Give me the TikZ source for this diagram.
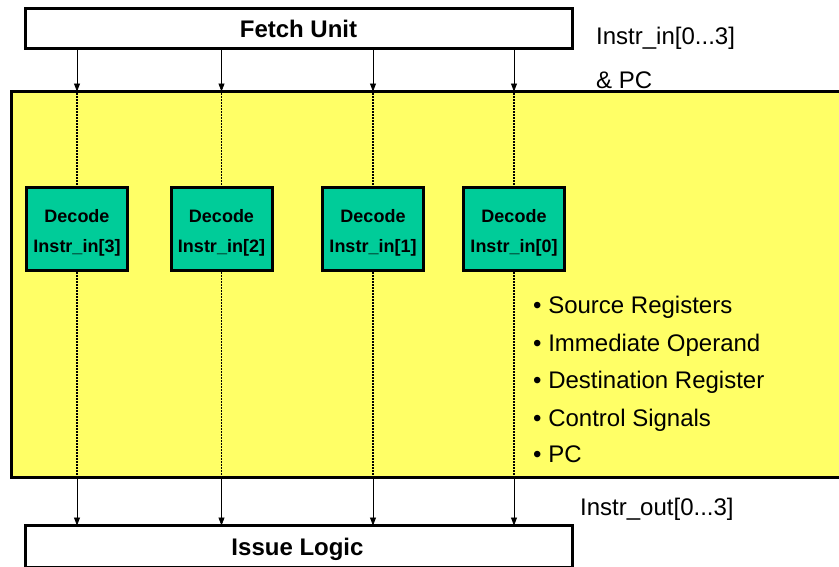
\documentclass[tikz,border=0pt]{standalone}
\usepackage{fontspec}
\setmainfont{Liberation Sans}
\usetikzlibrary{arrows.meta}
\definecolor{padyellow}{HTML}{FFFF66}
\definecolor{decgreen}{HTML}{00CC99}
\begin{document}
\begin{tikzpicture}[x=1pt,y=-1pt,
  unitbox/.style={draw=black, line width=3pt, fill=white, inner sep=0pt,
    minimum width=547pt, font=\fontsize{24}{28}\selectfont\bfseries},
  stagebox/.style={draw=black, line width=3pt, fill=padyellow, inner sep=0pt},
  decbox/.style={draw=black, line width=3pt, fill=decgreen, inner sep=0pt,
    minimum width=101pt, minimum height=83pt, align=center,
    font=\fontsize{18}{30}\selectfont\bfseries},
  plain/.style={inner sep=0pt, anchor=base west, font=\fontsize{24}{28}\selectfont},
  arr/.style={line width=0.8pt, -{Triangle[length=8pt,width=6pt]}},
  dotline/.style={line width=1.5pt, dash pattern=on 1.5pt off 1.5pt}
]
\useasboundingbox (0,0) rectangle (839,566);

% main decode stage (extends past the right edge)
\node[stagebox, minimum width=850pt, minimum height=385.5pt] (main) at (436.5,284.25) {};

% fetch and issue units
\node[unitbox, minimum height=40.5pt] (fetch) at (299,28.25) {};
\node[inner sep=0pt, anchor=base, font=\fontsize{24}{28}\selectfont\bfseries] (fetchtxt) at (298.5,37) {Fetch Unit};
\node[unitbox, minimum height=42pt] (issue) at (299,546.5) {};
\node[inner sep=0pt, anchor=base, font=\fontsize{24}{28}\selectfont\bfseries] (issuetxt) at (297.5,555) {Issue Logic};

% decoders
\foreach \n/\x/\k in {d3/77/3, d2/221.5/2, d1/373/1, d0/514/0}{
  \node[decbox] (\n) at (\x,229) {};
  \node[inner sep=0pt, anchor=base, font=\fontsize{18}{22}\selectfont\bfseries] (\n a) at (\x,222) {Decode};
  \node[inner sep=0pt, anchor=base, font=\fontsize{18}{22}\selectfont\bfseries] (\n b) at (\x,252) {Instr\_in[\k]};
}

% connectors
\foreach \n in {d3,d2,d1,d0}{
  \draw[arr] (fetch.south -| \n.north) -- ([yshift=-1.5pt]main.north -| \n.north);
  \draw[dotline] (main.north -| \n.north) -- (\n.north);
  \draw[dotline] (\n.south) -- (main.south -| \n.south);
  \draw[arr] (main.south -| \n.south) -- ([yshift=-1.5pt]issue.north -| \n.south);
}

% labels
\node[plain] (lin) at (596,44) {Instr\_in[0...3]};
\node[plain] (lpc) at (596,88) {\& PC};
\node[plain] (lout) at (580,515) {Instr\_out[0...3]};

\node[plain] (b1) at (533,313) {• Source Registers};
\node[plain] (b2) at (533,351) {• Immediate Operand};
\node[plain] (b3) at (533,388) {• Destination Register};
\node[plain] (b4) at (533,426) {• Control Signals};
\node[plain] (b5) at (533,462) {• PC};
\end{tikzpicture}
\end{document}
